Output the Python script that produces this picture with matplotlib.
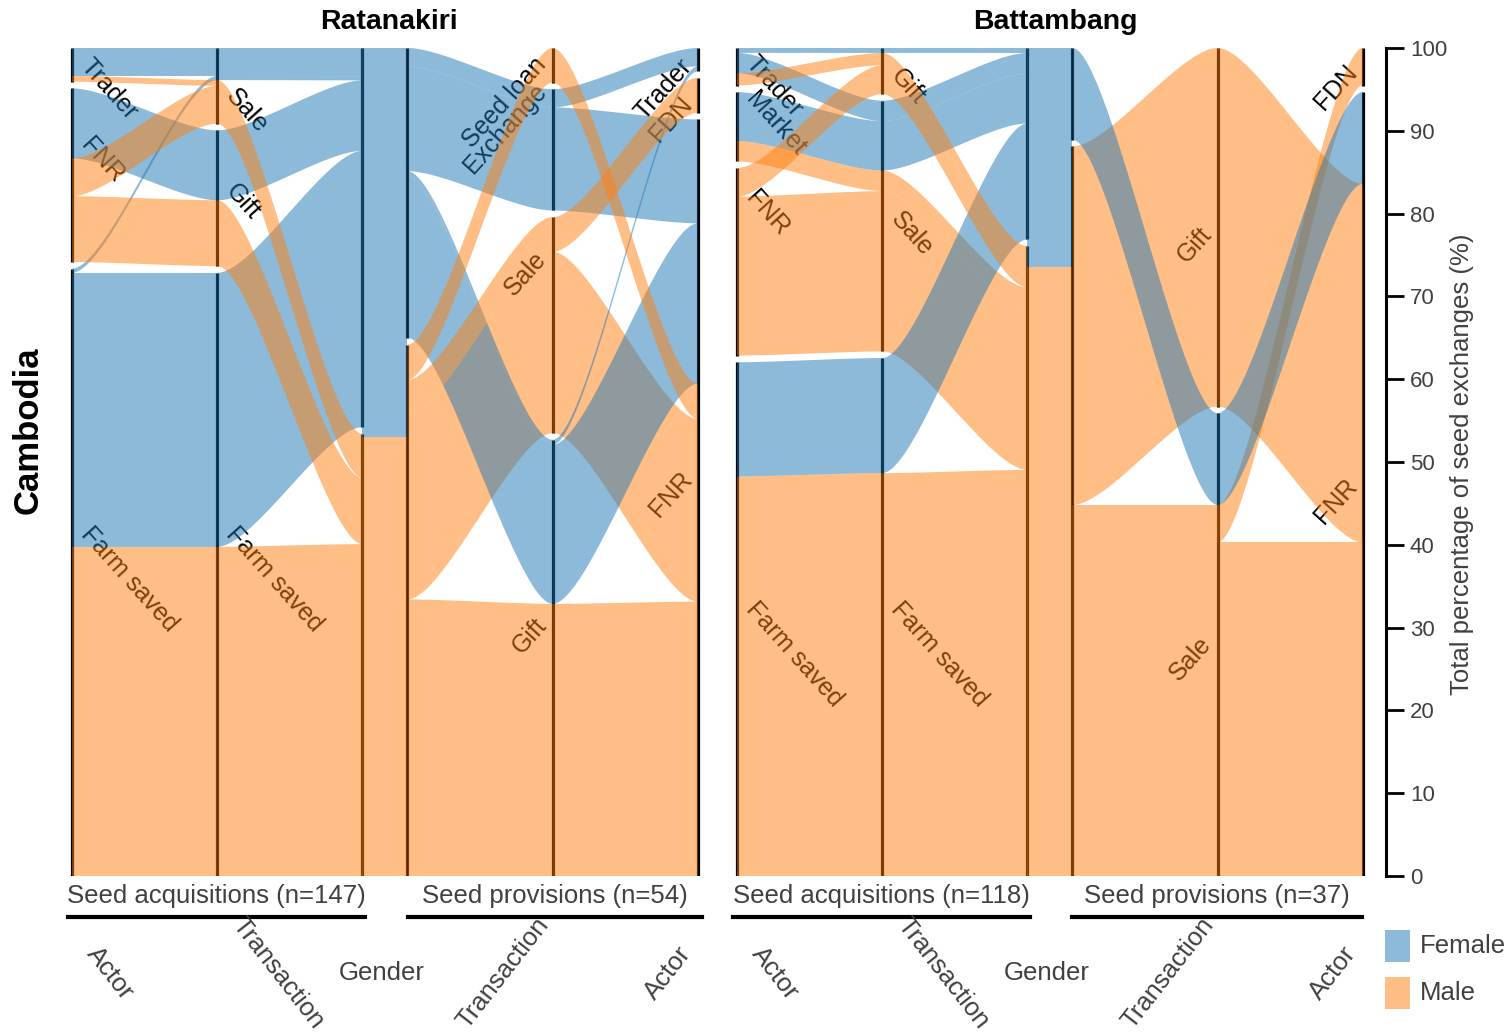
import numpy as np
import matplotlib.pyplot as plt
from matplotlib.patches import Rectangle, Polygon
from matplotlib.lines import Line2D

plt.rcParams['font.family'] = ['Liberation Sans', 'DejaVu Sans']

W, H = 1510, 1034
FEMALE = '#1f77b4'
MALE = '#ff7f0e'
GREY = '#404040'

# x position of each axis inside one panel (acquisitions: 0,1,2 / provisions: 2.31,3.31,4.31)
AX_X = [0.0, 1.0, 2.0, 2.31, 3.31, 4.31]
GAP = 0.8          # gap between strata, in %
CURVE = 0.25       # bezier control offset

gender_order = ['Male', 'Female']

# ---------------- Ratanakiri ----------------
rat_actor_order = ['Farm saved', 'FNR', 'Trader']
rat_trans_order = ['Farm saved', 'Gift', 'Sale']
rat_acq_actor = ['Farm saved', 'FNR', 'Trader', 'Farm saved', 'Farm saved', 'FNR', 'FNR', 'Trader']
rat_acq_trans = ['Farm saved', 'Gift', 'Sale', 'Sale', 'Farm saved', 'Gift', 'Sale', 'Sale']
rat_acq_gender = ['Female', 'Female', 'Female', 'Female', 'Male', 'Male', 'Male', 'Male']
rat_acq_pct = [33.3, 8.5, 3.4, 0.5, 40.0, 8.0, 4.6, 0.7]

rat_prov_trans_order = ['Gift', 'Sale', 'Exchange', 'Seed loan']
rat_prov_actor_order = ['FNR', 'FDN', 'Trader']
rat_prov_gender = ['Female', 'Female', 'Male', 'Male', 'Female', 'Female', 'Male', 'Male']
rat_prov_trans = ['Exchange', 'Exchange', 'Gift', 'Sale', 'Gift', 'Gift', 'Sale', 'Seed loan']
rat_prov_actor = ['FNR', 'Trader', 'FNR', 'FNR', 'FNR', 'Trader', 'FDN', 'FNR']
rat_prov_pct = [12.5, 2.2, 33.0, 22.0, 19.3, 0.6, 4.2, 4.2]

# ---------------- Battambang ----------------
bat_actor_order = ['Farm saved', 'FNR', 'Market', 'Trader']
bat_trans_order = ['Farm saved', 'Sale', 'Gift']
bat_acq_actor = ['FNR', 'Market', 'Farm saved', 'Farm saved', 'Market', 'Trader', 'FNR', 'Trader', 'Trader']
bat_acq_trans = ['Sale', 'Sale', 'Farm saved', 'Farm saved', 'Sale', 'Sale', 'Gift', 'Gift', 'Gift']
bat_acq_gender = ['Male', 'Male', 'Male', 'Female', 'Female', 'Female', 'Male', 'Male', 'Female']
bat_acq_pct = [19.5, 2.5, 49.0, 14.0, 6.0, 2.5, 3.5, 1.5, 0.6]

bat_prov_trans_order = ['Sale', 'Gift']
bat_prov_actor_order = ['FNR', 'FDN']
bat_prov_gender = ['Male', 'Male', 'Male', 'Female']
bat_prov_trans = ['Sale', 'Gift', 'Sale', 'Sale']
bat_prov_actor = ['FNR', 'FNR', 'FDN', 'FNR']
bat_prov_pct = [40.0, 43.0, 4.5, 11.0]

# share of women in the gender block between the two halves
gender_block_female = [47.0, 26.4]

# stratum labels: (axis index, text, anchor height)
rat_labels = [(0, 'Trader', 98.3), (0, 'FNR', 88.7), (0, 'Farm saved', 41.8),
              (1, 'Sale', 94.7), (1, 'Gift', 83.2), (1, 'Farm saved', 41.8),
              (4, 'Seed loan', 98.5), (4, 'Exchange', 95.3), (4, 'Sale', 75.0), (4, 'Gift', 30.7),
              (5, 'Trader', 98.3), (5, 'FDN', 93.7), (5, 'FNR', 48.4)]
bat_labels = [(0, 'Trader', 98.6), (0, 'Market', 94.3), (0, 'FNR', 82.3), (0, 'Farm saved', 32.7),
              (1, 'Gift', 97.1), (1, 'Sale', 79.8), (1, 'Farm saved', 32.7),
              (4, 'Gift', 78.0), (4, 'Sale', 28.5),
              (5, 'FDN', 97.6), (5, 'FNR', 47.6)]


def stack(rows, var, keys, orders):
    n = len(rows['pct'])
    ncat = len(set(rows[var]))
    scale = (100 - GAP * (ncat - 1)) / sum(rows['pct'])
    idx = sorted(range(n), key=lambda i: tuple(orders[k].index(rows[k][i]) for k in keys))
    lo, hi = np.zeros(n), np.zeros(n)
    y, prev = 0.0, None
    for i in idx:
        if prev is not None and rows[var][i] != prev:
            y += GAP
        lo[i] = y
        y += rows['pct'][i] * scale
        hi[i] = y
        prev = rows[var][i]
    return lo, hi


def band(ax, x0, x1, lo0, hi0, lo1, hi1, color):
    t = np.linspace(0, 1, 80)
    w = x1 - x0
    bx = (1-t)**3*x0 + 3*(1-t)**2*t*(x0 + CURVE*w) + 3*(1-t)*t**2*(x1 - CURVE*w) + t**3*x1
    s = 3*t**2 - 2*t**3
    bot = lo0 + (lo1 - lo0) * s
    top = hi0 + (hi1 - hi0) * s
    pts = np.vstack([np.column_stack([bx, bot]), np.column_stack([bx[::-1], top[::-1]])])
    ax.add_patch(Polygon(pts, closed=True, facecolor=color, alpha=0.5, lw=0, zorder=2))


def draw_part(ax, rows, axes_vars, xs, orders):
    pos = []
    for v in axes_vars:
        keys = [v] + [k for k in ['gender', 'trans', 'actor'] if k != v]
        pos.append(stack(rows, v, keys, orders))
    # strata lines (drawn under the flows)
    for (lo, hi), v, x in zip(pos, axes_vars, xs):
        for cat in set(rows[v]):
            sel = [i for i, c in enumerate(rows[v]) if c == cat]
            ax.plot([x, x], [lo[sel].min(), hi[sel].max()], color='black', lw=2.3,
                    solid_capstyle='butt', zorder=1)
    for i in range(len(rows['pct'])):
        col = FEMALE if rows['gender'][i] == 'Female' else MALE
        for j in range(len(xs) - 1):
            band(ax, xs[j], xs[j+1], pos[j][0][i], pos[j][1][i], pos[j+1][0][i], pos[j+1][1][i], col)


def draw_panel(ax, acq, prov, acq_orders, prov_orders, fshare, labels):
    draw_part(ax, acq, ['actor', 'trans', 'gender'], AX_X[:3], acq_orders)
    draw_part(ax, prov, ['gender', 'trans', 'actor'], AX_X[3:], prov_orders)
    ax.add_patch(Rectangle((AX_X[2], 0), AX_X[3]-AX_X[2], 100-fshare, facecolor=MALE, alpha=0.5, lw=0, zorder=2))
    ax.add_patch(Rectangle((AX_X[2], 100-fshare), AX_X[3]-AX_X[2], fshare, facecolor=FEMALE, alpha=0.5, lw=0, zorder=2))
    for k, txt, y in labels:
        if k < 3:
            ax.text(AX_X[k] + 0.09, y, txt, rotation=-48, rotation_mode='anchor', ha='left', va='center',
                    fontsize=18, color='black', zorder=1.5)
        else:
            ax.text(AX_X[k] - 0.07, y, txt, rotation=48, rotation_mode='anchor', ha='right', va='center',
                    fontsize=18, color='black', zorder=1.5)
    ax.set_xlim(-0.1, 4.41)
    ax.set_ylim(0, 100)
    ax.axis('off')


fig = plt.figure(figsize=(W/100, H/100), dpi=100)
UNIT = 145.2
BOTTOM = (H - 876) / H
HEIGHT = 828 / H


def fx(px):
    return px / W


def fy(py):
    return 1 - py / H


panels = [
    (72, dict(actor=rat_acq_actor, trans=rat_acq_trans, gender=rat_acq_gender, pct=rat_acq_pct),
     dict(gender=rat_prov_gender, trans=rat_prov_trans, actor=rat_prov_actor, pct=rat_prov_pct),
     dict(actor=rat_actor_order, trans=rat_trans_order, gender=gender_order),
     dict(actor=rat_prov_actor_order, trans=rat_prov_trans_order, gender=gender_order),
     gender_block_female[0], rat_labels),
    (737, dict(actor=bat_acq_actor, trans=bat_acq_trans, gender=bat_acq_gender, pct=bat_acq_pct),
     dict(gender=bat_prov_gender, trans=bat_prov_trans, actor=bat_prov_actor, pct=bat_prov_pct),
     dict(actor=bat_actor_order, trans=bat_trans_order, gender=gender_order),
     dict(actor=bat_prov_actor_order, trans=bat_prov_trans_order, gender=gender_order),
     gender_block_female[1], bat_labels),
]
for x0, acq, prov, ao, po, fs, labs in panels:
    ax = fig.add_axes([fx(x0 - 0.1*UNIT), BOTTOM, 4.51*UNIT/W, HEIGHT])
    draw_panel(ax, acq, prov, ao, po, fs, labs)

# titles
fig.text(fx(389), fy(22), 'Ratanakiri', ha='center', va='center', fontsize=20.5, fontweight='bold')
fig.text(fx(1055), fy(22), 'Battambang', ha='center', va='center', fontsize=20.5, fontweight='bold')
fig.text(fx(28), fy(430), 'Cambodia', ha='center', va='center', fontsize=25, fontweight='bold', rotation=90)

# group captions with underline
groups = [('Seed acquisitions (n=147)', 68, 365), ('Seed provisions (n=54)', 408, 702),
          ('Seed acquisitions (n=118)', 733, 1030), ('Seed provisions (n=37)', 1072, 1362)]
for txt, a, b in groups:
    fig.text(fx((a+b)/2), fy(896), txt, ha='center', va='center', fontsize=18.5, color=GREY)
    fig.add_artist(Line2D([fx(a), fx(b)], [fy(917), fy(917)], color='black', lw=3))

# axis names
for off in [0, 665]:
    for txt, x, rot in [('Actor', 110, -52), ('Transaction', 278, -52), ('Gender', 382, 0),
                        ('Transaction', 503, 52), ('Actor', 668, 52)]:
        fig.text(fx(x + off), fy(973), txt, ha='center', va='center', rotation=rot,
                 rotation_mode='anchor', fontsize=18.5, color=GREY)

# y axis on the right
axy = fig.add_axes([fx(1386), BOTTOM, 0.0001, HEIGHT])
axy.set_ylim(0, 100)
axy.set_yticks(range(0, 101, 10))
axy.set_xticks([])
for s in ['left', 'top', 'bottom']:
    axy.spines[s].set_visible(False)
axy.spines['right'].set_linewidth(2.2)
axy.yaxis.tick_right()
axy.tick_params(axis='y', length=13, width=2, labelsize=16, pad=4, labelcolor=GREY)
fig.text(fx(1462), fy(464), 'Total percentage of seed exchanges (%)', rotation=90,
         ha='center', va='center', fontsize=18.5, color=GREY)

# legend
for col, name, y in [(FEMALE, 'Female', 946), (MALE, 'Male', 993)]:
    fig.add_artist(Rectangle((fx(1385), fy(y + 16)), 25/W, 32/H, facecolor=col, alpha=0.5, lw=0,
                             transform=fig.transFigure))
    fig.text(fx(1420), fy(y), name, ha='left', va='center', fontsize=18.5, color=GREY)

fig.savefig('out.png', dpi=100)
